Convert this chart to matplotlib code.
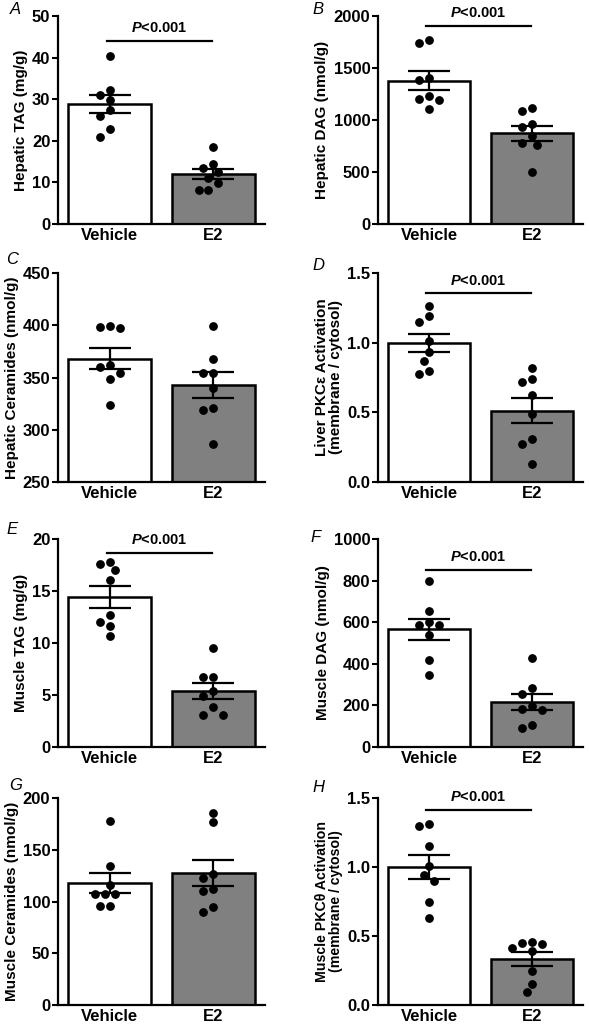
import numpy as np
import matplotlib
matplotlib.use('Agg')
import matplotlib.pyplot as plt

plt.rcParams['font.family'] = ['Liberation Sans', 'DejaVu Sans']
plt.rcParams['mathtext.fontset'] = 'custom'
plt.rcParams['mathtext.bfit'] = 'Liberation Sans:bold:italic'

groups = ['Vehicle', 'E2']

# values (n=8 per group)
hep_tag_veh = [40.4, 32.1, 30.9, 29.8, 27.3, 26.0, 22.8, 21.0]
hep_tag_e2 = [18.5, 14.5, 13.5, 12.4, 11.0, 9.8, 8.2, 8.1]
hep_dag_veh = [1770, 1738, 1403, 1388, 1228, 1203, 1196, 1110]
hep_dag_e2 = [1116, 1085, 957, 930, 845, 780, 756, 501]
hep_cer_veh = [399.4, 398.8, 397.8, 361.7, 360.1, 354.6, 348.2, 323.9]
hep_cer_e2 = [399.4, 367.4, 354.6, 354.6, 339.6, 320.4, 318.5, 286.5]
liv_pkc_veh = [1.265, 1.193, 1.145, 1.014, 0.935, 0.870, 0.798, 0.774]
liv_pkc_e2 = [0.817, 0.738, 0.719, 0.623, 0.486, 0.312, 0.271, 0.132]
mus_tag_veh = [17.8, 17.6, 17.0, 16.05, 12.7, 12.0, 11.6, 10.7]
mus_tag_e2 = [9.5, 6.7, 6.7, 5.4, 4.9, 3.85, 3.1, 3.1]
mus_dag_veh = [800, 655, 600, 585, 585, 540, 418, 345]
mus_dag_e2 = [426, 284, 255, 195, 183, 180, 107, 91]
mus_cer_veh = [178, 134.7, 115.8, 107.7, 107.7, 107.7, 95.5, 95.5]
mus_cer_e2 = [185.5, 176.5, 126.7, 122.8, 111.6, 110.6, 94.5, 90]
mus_pkc_veh = [1.311, 1.299, 1.149, 1.004, 0.944, 0.900, 0.743, 0.629]
mus_pkc_e2 = [0.460, 0.448, 0.440, 0.416, 0.392, 0.247, 0.155, 0.097]

ylabels = ['Hepatic TAG (mg/g)', 'Hepatic DAG (nmol/g)',
           'Hepatic Ceramides (nmol/g)', 'Liver PKC\u03b5 Activation\n(membrane / cytosol)',
           'Muscle TAG (mg/g)', 'Muscle DAG (nmol/g)',
           'Muscle Ceramides (nmol/g)', 'Muscle PKC\u03b8 Activation\n(membrane / cytosol)']
ylabel_size = [11, 11, 11, 11, 11, 11, 11, 10.2]
yticks = [np.arange(0, 51, 10), np.arange(0, 2001, 500),
          np.arange(250, 451, 50), [0.0, 0.5, 1.0, 1.5],
          np.arange(0, 21, 5), np.arange(0, 1001, 200),
          np.arange(0, 201, 50), [0.0, 0.5, 1.0, 1.5]]
tickfmt = ['%d', '%d', '%d', '%.1f', '%d', '%d', '%d', '%.1f']
sig_y = [44, 1904, None, 1.356, 18.7, 853, None, 1.415]
letters = ['A', 'B', 'C', 'D', 'E', 'F', 'G', 'H']
data = [(hep_tag_veh, hep_tag_e2), (hep_dag_veh, hep_dag_e2),
        (hep_cer_veh, hep_cer_e2), (liv_pkc_veh, liv_pkc_e2),
        (mus_tag_veh, mus_tag_e2), (mus_dag_veh, mus_dag_e2),
        (mus_cer_veh, mus_cer_e2), (mus_pkc_veh, mus_pkc_e2)]

W, H = 589, 1024
fig = plt.figure(figsize=(W / 100, H / 100), dpi=100)

col_x = [(58, 207), (378, 205)]
row_y = [(16, 224), (273, 482), (539, 747), (798, 1005)]
letter_pos = [(15, 10), (318, 10), (12, 259), (318, 266),
              (12, 530), (316, 538), (16, 785), (318, 787)]


def swarm(ax, x0, vals, diam=9.8):
    vals = np.asarray(vals, float)
    ys = ax.transData.transform(np.column_stack([np.zeros(len(vals)), vals]))[:, 1]
    pxx = ax.transData.transform((1, 0))[0] - ax.transData.transform((0, 0))[0]
    placed = []
    offs = np.zeros(len(vals))
    for i in np.argsort(-vals):
        for k in [0, -0.5, 0.5, -1, 1, -1.5, 1.5, -2, 2]:
            dx = k * diam
            if all(np.hypot(dx - px, ys[i] - py) >= diam * 0.95 for px, py in placed):
                break
        placed.append((dx, ys[i]))
        offs[i] = dx / pxx
    return x0 + offs


for i in range(8):
    r, c = divmod(i, 2)
    x0, w = col_x[c]
    t, b = row_y[r]
    ax = fig.add_axes([x0 / W, 1 - b / H, w / W, (b - t) / H])
    veh, e2 = data[i]
    means = [np.mean(veh), np.mean(e2)]
    sems = [np.std(veh, ddof=1) / np.sqrt(len(veh)), np.std(e2, ddof=1) / np.sqrt(len(e2))]
    ax.set_xlim(-0.5, 1.5)
    yt = yticks[i]
    ax.set_ylim(yt[0], yt[-1])
    ax.bar([0, 1], means, width=0.8, color=['white', '#808080'],
           edgecolor='black', linewidth=1.8, zorder=1)
    for j, vals in enumerate([veh, e2]):
        xs = swarm(ax, j, vals)
        ax.scatter(xs, vals, s=28, color='black', zorder=3, clip_on=False)
    ax.errorbar([0, 1], means, yerr=sems, fmt='none', ecolor='black',
                elinewidth=1.6, capsize=15, capthick=1.6, zorder=4)
    ax.set_yticks(yt)
    ax.set_yticklabels([tickfmt[i] % v for v in yt], fontweight='bold', fontsize=12)
    ax.set_xticks([0, 1])
    ax.set_xticklabels(groups, fontweight='bold', fontsize=12)
    ax.tick_params(axis='x', length=0, pad=3)
    ax.tick_params(axis='y', length=4, width=1.5, pad=1.5)
    for s in ['top', 'right']:
        ax.spines[s].set_visible(False)
    for s in ['left', 'bottom']:
        ax.spines[s].set_linewidth(1.6)
    ax.set_ylabel(ylabels[i], fontweight='bold', fontsize=ylabel_size[i], labelpad=3,
                  linespacing=1.05)
    if sig_y[i] is not None:
        ax.plot([-0.03, 0.99], [sig_y[i], sig_y[i]], color='black', lw=1.6,
                clip_on=False, zorder=5)
        ax.annotate(r'$\mathbfit{P}$<0.001', xy=(0.48, sig_y[i]), xytext=(0, 4),
                    textcoords='offset points', ha='center', va='bottom',
                    fontweight='bold', fontsize=10.5, annotation_clip=False)
    lx, ly = letter_pos[i]
    fig.text(lx / W, 1 - ly / H, letters[i], fontstyle='italic', fontsize=12,
             ha='center', va='center')

fig.savefig('out.png', dpi=100)
